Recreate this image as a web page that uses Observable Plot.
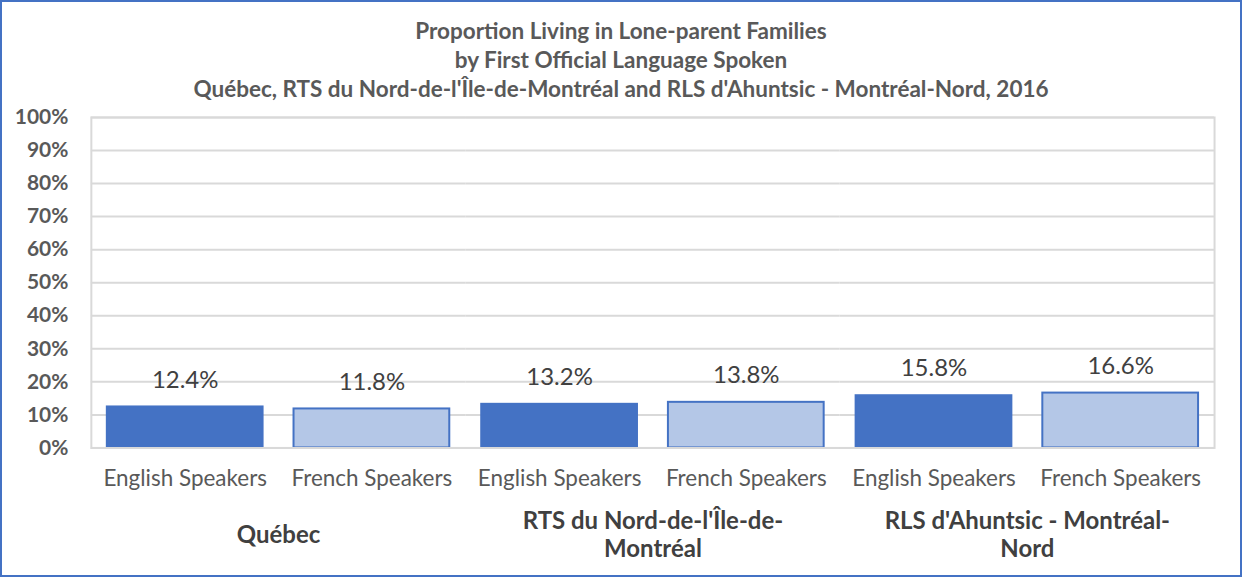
<!DOCTYPE html>
<html>
<head>
<meta charset="utf-8">
<script src="https://cdn.jsdelivr.net/npm/d3@7"></script>
<script src="https://cdn.jsdelivr.net/npm/@observablehq/plot@0.6"></script>
<style>
  html, body { margin: 0; padding: 0; background: #fff; }
  #wrap { position: relative; width: 1242px; height: 577px; box-sizing: border-box; border: 2px solid #4472C4; background: #fff; overflow: hidden; }
  #title { position: absolute; top: 14px; left: -2px; width: 1242px; text-align: center; font-family: Lato, sans-serif; font-weight: bold; font-size: 22.5px; line-height: 29px; color: #595959; }
  #chart { position: absolute; top: 98px; left: -2px; }
</style>
</head>
<body>
<div id="wrap">
  <div id="title"></div>
  <div id="chart"></div>
</div>
<script>
const titleLines = [
  "Proportion Living in Lone-parent Families",
  "by First Official Language Spoken",
  "Québec, RTS du Nord-de-l'Île-de-Montréal and RLS d'Ahuntsic - Montréal-Nord, 2016"
];
const groups = ["Québec", "RTS du Nord-de-l'Île-de-Montréal", "RLS d'Ahuntsic - Montréal-Nord"];
const groupLabels = ["Québec", "RTS du Nord-de-l'Île-de-\nMontréal", "RLS d'Ahuntsic - Montréal-\nNord"];
const languages = ["English Speakers", "French Speakers"];
const englishValues = [0.124, 0.132, 0.158];
const frenchValues = [0.118, 0.138, 0.166];
const yTicks = [0, 0.1, 0.2, 0.3, 0.4, 0.5, 0.6, 0.7, 0.8, 0.9, 1.0];
const colors = ["#4472C4", "#B4C7E7"];

document.getElementById("title").innerHTML = titleLines.map(t => `<div>${t}</div>`).join("");

const data = [];
groups.forEach((g, i) => {
  data.push({group: g, lang: languages[0], value: englishValues[i]});
  data.push({group: g, lang: languages[1], value: frenchValues[i]});
});
const groupData = groups.map((g, i) => ({group: g, label: groupLabels[i]}));

const chart = Plot.plot({
  width: 1242,
  height: 475,
  marginTop: 17,
  marginBottom: 127,
  marginLeft: 91,
  marginRight: 26,
  style: {fontFamily: "Lato, sans-serif", background: "transparent"},
  fx: {domain: groups, padding: 0, axis: null},
  x: {domain: languages, paddingInner: 0.168, paddingOuter: 0.084, axis: null},
  y: {domain: [0, 1], axis: null},
  color: {domain: languages, range: colors},
  marks: [
    Plot.gridY(yTicks, {stroke: "#d9d9d9", strokeOpacity: 1, strokeWidth: 2}),
    Plot.frame({facet: "super", stroke: "#d9d9d9", strokeWidth: 2}),
    Plot.barY(data, {fx: "group", x: "lang", y: "value", fill: "lang", stroke: "#4472C4", strokeWidth: 2}),
    Plot.ruleY([0], {stroke: "#d9d9d9", strokeWidth: 2}),
    Plot.text(data, {fx: "group", x: "lang", y: "value", text: d => d3.format(".1%")(d.value), dy: -27, fontSize: 24, fill: "#404040"}),
    Plot.axisY({ticks: yTicks, tickFormat: d3.format(".0%"), tickSize: 0, tickPadding: 23, fontSize: 21, fontWeight: "bold", fill: "#595959", label: null}),
    Plot.axisX({tickSize: 0, tickPadding: 22, fontSize: 22.5, fill: "#595959", label: null}),
    Plot.text(groupData, {fx: "group", text: "label", frameAnchor: "bottom", dy: 86, lineAnchor: "middle", lineHeight: 1.2, fontSize: 24, fontWeight: "bold", fill: "#404040"})
  ]
});
document.getElementById("chart").appendChild(chart);
</script>
</body>
</html>
